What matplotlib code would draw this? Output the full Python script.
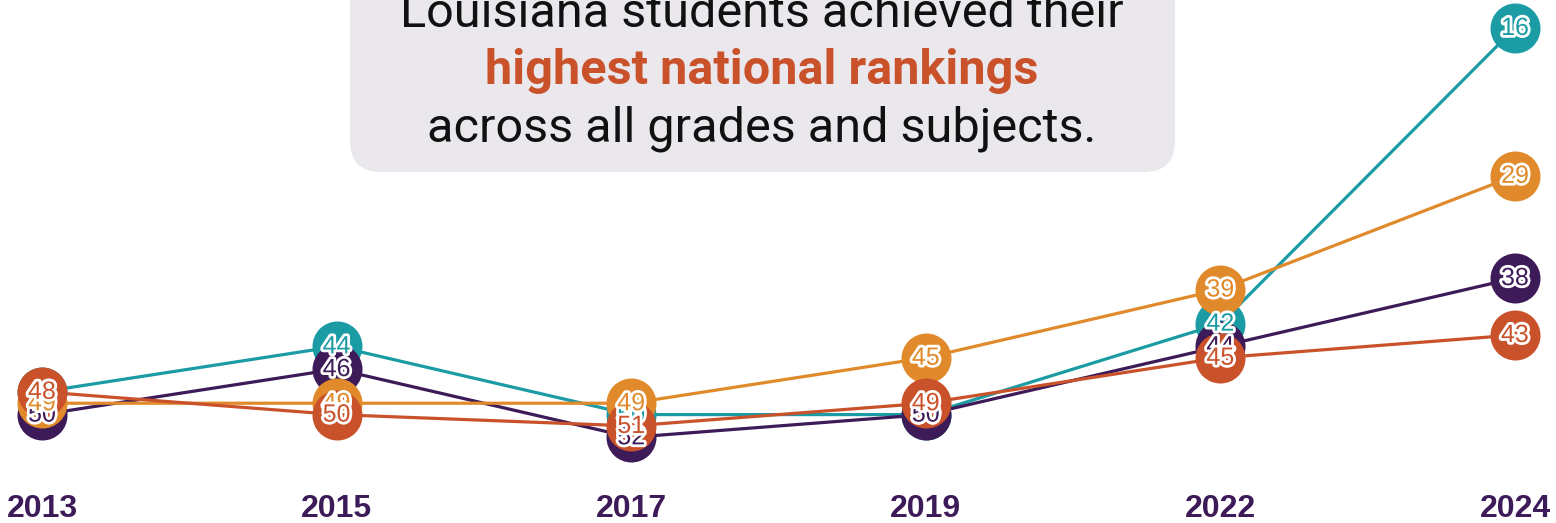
import matplotlib.pyplot as plt
import matplotlib.patheffects as pe
from matplotlib.patches import FancyBboxPatch

# data: national ranking by year (lower is better)
years = ['2013', '2015', '2017', '2019', '2022', '2024']
teal_rank = [48, 44, 50, 50, 42, 16]
purple_rank = [50, 46, 52, 50, 44, 38]
orange_rank = [49, 49, 49, 45, 39, 29]
rust_rank = [48, 50, 51, 49, 45, 43]

series = [
    (teal_rank, '#1b9ba4'),
    (purple_rank, '#3d1a58'),
    (orange_rank, '#e08a2b'),
    (rust_rank, '#c9522b'),
]

W, H = 1556, 523
fig = plt.figure(figsize=(W / 100, H / 100), dpi=100)
ax = fig.add_axes([0, 53 / H, 1, 1 - 53 / H])

x = list(range(len(years)))
for vals, col in series:
    ax.plot(x, vals, color=col, lw=2.3, zorder=2, solid_capstyle='round')
for i, (vals, col) in enumerate(series):
    ax.plot(x, vals, 'o', ms=36, color=col, mec='none', zorder=3 + i)
for i, (vals, col) in enumerate(series):
    for xi, v in zip(x, vals):
        ax.text(xi, v, str(v), ha='center', va='center', fontsize=18,
                family='Liberation Sans', color=col, zorder=10 + i,
                path_effects=[pe.withStroke(linewidth=4, foreground='white')])

# 2013 at px 42, 2024 at px 1515
sx = (1515 - 42) / 5
ax.set_xlim(-42 / sx, 5 + (W - 1515) / sx)
sy = (335 - 28) / (43 - 16)
ax.set_ylim(43 + (470 - 335) / sy, 16 - 28 / sy)

ax.set_xticks(x)
ax.set_xticklabels(years, fontsize=23, fontweight='bold', color='#3d1a58',
                   family='Liberation Sans')
ax.tick_params(axis='x', length=0, pad=17)
ax.set_yticks([])
for s in ax.spines.values():
    s.set_visible(False)

# callout box at top
box = FancyBboxPatch((350 / W, 1 - 172 / H), 825 / W, 260 / H,
                     boxstyle='round,pad=0,rounding_size=0.02',
                     transform=fig.transFigure, facecolor='#eae8ed',
                     edgecolor='none', zorder=20, mutation_aspect=W / H)
fig.add_artist(box)
cx = 762 / W
fig.text(cx, 1 - 27 / H, 'Louisiana students achieved their', ha='center',
         va='baseline', fontsize=35, family='Roboto', color='#111111', zorder=21)
fig.text(cx, 1 - 84 / H, 'highest national rankings', ha='center',
         va='baseline', fontsize=35, family='Roboto', fontweight='bold',
         color='#c9522b', zorder=21)
fig.text(cx, 1 - 142 / H, 'across all grades and subjects.', ha='center',
         va='baseline', fontsize=35, family='Roboto', color='#111111', zorder=21)

fig.savefig('out.png', dpi=100)
